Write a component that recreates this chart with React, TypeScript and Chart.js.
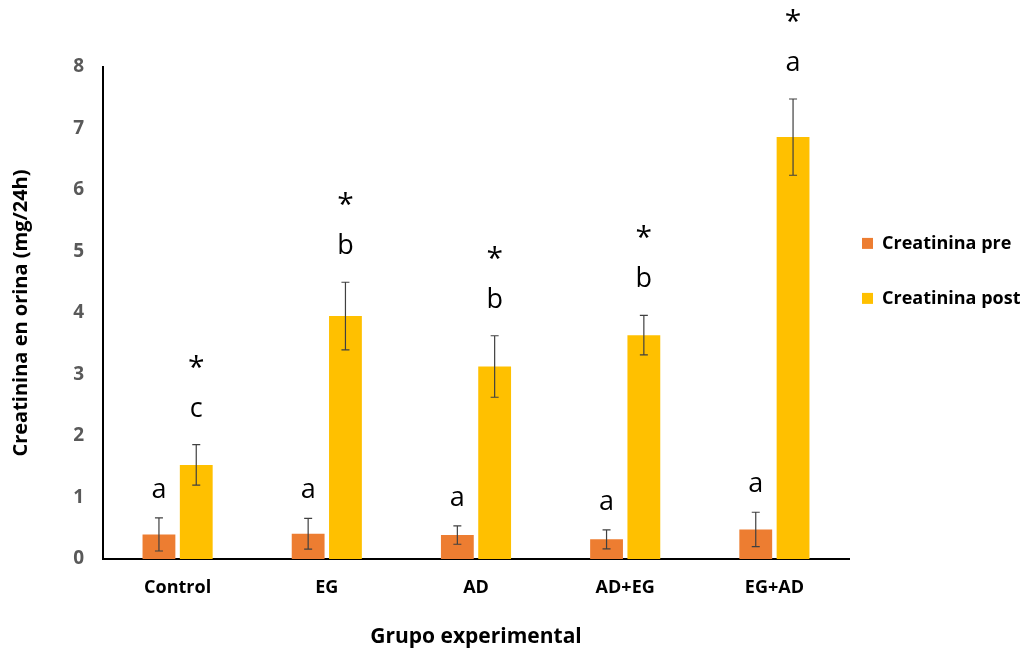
import React, { useEffect, useRef } from "react";
import { Chart, registerables } from "chart.js";

Chart.register(...registerables);

const categories = ["Control", "EG", "AD", "AD+EG", "EG+AD"];
const preValues = [0.4, 0.41, 0.39, 0.32, 0.48];
const preErrors = [0.27, 0.25, 0.15, 0.155, 0.28];
const postValues = [1.53, 3.95, 3.13, 3.64, 6.86];
const postErrors = [0.33, 0.55, 0.5, 0.32, 0.62];
const preLetters = ["a", "a", "a", "a", "a"];
const postLetters = ["c", "b", "b", "b", "a"];
const postStars = ["*", "*", "*", "*", "*"];
const yTicks = [0, 1, 2, 3, 4, 5, 6, 7, 8];

const errorsBySeries = [preErrors, postErrors];
const lettersBySeries = [preLetters, postLetters];
const starsBySeries = [[], postStars];

const FONT = "'Open Sans', 'DejaVu Sans', sans-serif";

const annotate = {
  id: "annotate",
  afterDatasetsDraw(chart: any) {
    const ctx = chart.ctx;
    const y = chart.scales.y;
    ctx.save();
    chart.data.datasets.forEach((ds: any, d: number) => {
      const meta = chart.getDatasetMeta(d);
      meta.data.forEach((el: any, i: number) => {
        const v = ds.data[i];
        const e = errorsBySeries[d][i];
        const x = el.x;
        const top = y.getPixelForValue(v + e);
        const bot = y.getPixelForValue(v - e);
        ctx.strokeStyle = "#404040";
        ctx.lineWidth = 1.2;
        ctx.beginPath();
        ctx.moveTo(x, top);
        ctx.lineTo(x, bot);
        ctx.moveTo(x - 4, top);
        ctx.lineTo(x + 4, top);
        ctx.moveTo(x - 4, bot);
        ctx.lineTo(x + 4, bot);
        ctx.stroke();
        const letterBase = top - (d === 0 ? 20 : 28);
        ctx.fillStyle = "#000";
        ctx.textAlign = "center";
        ctx.textBaseline = "alphabetic";
        ctx.font = `27px ${FONT}`;
        ctx.fillText(lettersBySeries[d][i], x, letterBase);
        const star = starsBySeries[d][i];
        if (star) {
          ctx.font = `30px ${FONT}`;
          ctx.fillText(star, x, letterBase - 40);
        }
      });
    });
    ctx.restore();
  },
};

export default function App() {
  const ref = useRef<HTMLCanvasElement>(null);
  useEffect(() => {
    document.body.style.margin = "0";
    const chart = new Chart(ref.current!, {
      type: "bar",
      data: {
        labels: categories,
        datasets: [
          {
            label: "Creatinina pre",
            data: preValues,
            backgroundColor: "#ED7D31",
            categoryPercentage: 0.5,
            barPercentage: 0.88,
          },
          {
            label: "Creatinina post",
            data: postValues,
            backgroundColor: "#FFC000",
            categoryPercentage: 0.5,
            barPercentage: 0.88,
          },
        ],
      },
      options: {
        animation: false,
        responsive: false,
        layout: { padding: { top: 67, right: 0, bottom: 0, left: 0 } },
        plugins: {
          tooltip: { enabled: false },
          legend: {
            position: "right",
            align: "start",
            maxWidth: 174,
            title: {
              display: true,
              text: " ",
              font: { size: 12, family: FONT },
              padding: { top: 0, bottom: 140 },
            },
            labels: {
              boxWidth: 11,
              boxHeight: 11,
              padding: 13,
              color: "#000",
              font: { size: 18, weight: "bold", family: FONT, lineHeight: "42px" },
              generateLabels: (chart: any) =>
                chart.data.datasets.map((ds: any, i: number) => ({
                  text: [ds.label],
                  fillStyle: ds.backgroundColor,
                  strokeStyle: ds.backgroundColor,
                  fontColor: "#000",
                  lineWidth: 0,
                  datasetIndex: i,
                  hidden: false,
                })),
            },
          },
        },
        scales: {
          x: {
            grid: { display: false, drawTicks: false, tickLength: 0 },
            border: { display: true, color: "#000", width: 2 },
            ticks: {
              color: "#000",
              padding: 18,
              font: { size: 18, weight: "bold", family: FONT },
            },
            title: {
              display: true,
              text: "Grupo experimental",
              color: "#000",
              font: { size: 21, weight: "bold", family: FONT },
              padding: { top: 0, bottom: 4 },
            },
            afterFit: (s: any) => {
              s.height = 95;
            },
          },
          y: {
            min: 0,
            max: 8,
            afterBuildTicks: (s: any) => {
              s.ticks = yTicks.map((v) => ({ value: v }));
            },
            grid: { display: false, drawTicks: false, tickLength: 0 },
            border: { display: true, color: "#000", width: 2 },
            ticks: {
              color: "#595959",
              padding: 19,
              font: { size: 19, weight: "bold", family: FONT },
            },
            title: {
              display: true,
              text: "Creatinina en orina (mg/24h)",
              color: "#000",
              font: { size: 20, weight: "bold", family: FONT },
              padding: { top: 9, bottom: 0 },
            },
            afterFit: (s: any) => {
              s.width = 103;
            },
          },
        },
      },
      plugins: [annotate],
    });
    return () => chart.destroy();
  }, []);
  return <canvas ref={ref} width={1023} height={654} style={{ display: "block" }} />;
}
